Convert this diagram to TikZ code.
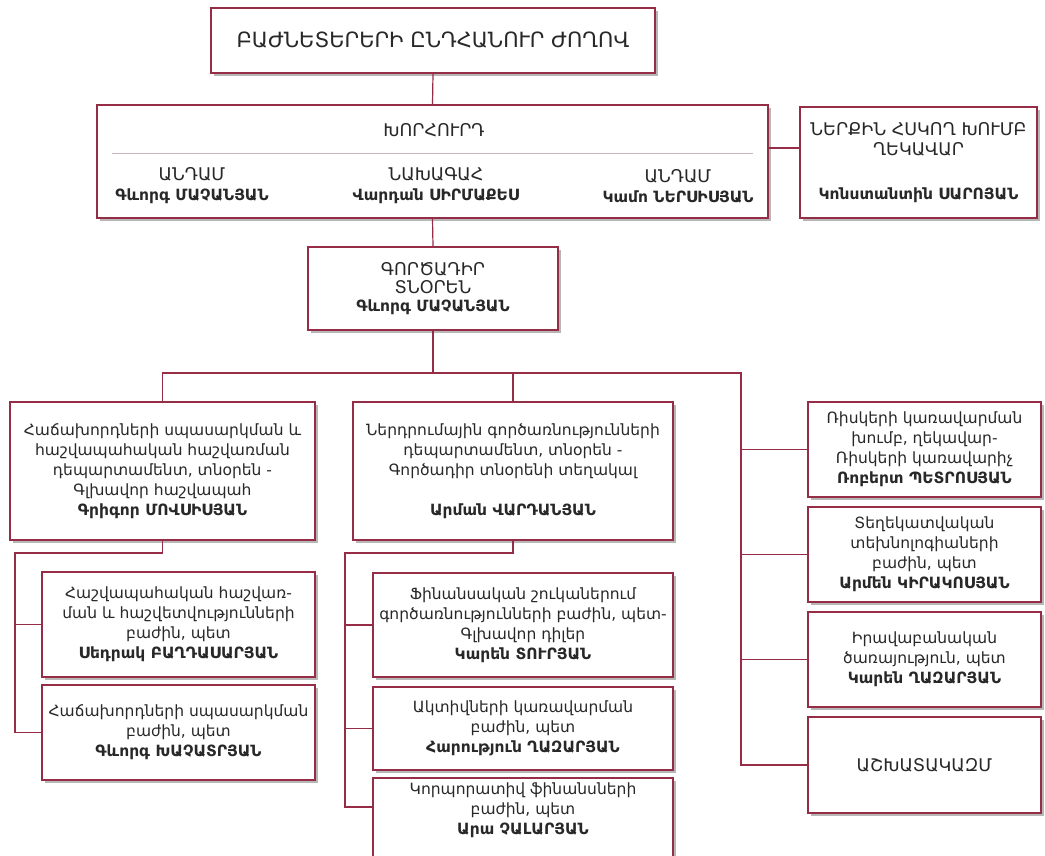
\documentclass[tikz,border=0pt]{standalone}
\usepackage{fontspec}
\setmainfont{DejaVu Sans}
\usetikzlibrary{shadows}
\definecolor{frame}{RGB}{150,45,70}
\definecolor{txt}{RGB}{40,40,40}
\definecolor{sepc}{RGB}{200,180,185}
\newcommand\bodyfont{\fontsize{15.5}{20}\selectfont}
\newcommand\capfont{\fontsize{17.5}{20}\selectfont}
\newcommand\titlefont{\fontsize{21}{24}\selectfont}
\newcommand\nm[1]{{\fontsize{15.5}{20}\selectfont\bfseries #1}}
\tikzset{
  box/.style={draw=frame, line width=1.4pt, fill=white, inner sep=0pt, align=center,
    text=txt, font=\bodyfont,
    drop shadow={shadow xshift=3pt, shadow yshift=-3pt, fill=black!35, opacity=0.8}},
  link/.style={draw=frame, line width=1.2pt},
  lbl/.style={inner sep=0pt, align=center, text=txt, font=\bodyfont}
}
\begin{document}
\begin{tikzpicture}[x=1pt,y=-1pt]
\useasboundingbox[fill=white] (0,0) rectangle (1045,856);

% top levels
\node[box, font=\titlefont, minimum width=444pt, minimum height=65pt] (gm) at (433,40.5)
  {ԲԱԺՆԵՏԵՐԵՐԻ ԸՆԴՀԱՆՈՒՐ ԺՈՂՈՎ};
\node[box, minimum width=671pt, minimum height=113pt] (council) at (432.5,161.5) {};
\node[lbl, font=\capfont] (ctitle) at (434,130) {ԽՈՐՀՈՒՐԴ};
\draw[sepc, line width=0.8pt] (112,153) -- (753,153);
\node[lbl, font=\capfont] (m1) at (192,186) {ԱՆԴԱՄ\\\nm{Գևորգ ՄԱՉԱՆՅԱՆ}};
\node[lbl, font=\capfont] (m2) at (436,186) {ՆԱԽԱԳԱՀ\\\nm{Վարդան ՍԻՐՄԱՔԵՍ}};
\node[lbl, font=\capfont] (m3) at (678,186) {ԱՆԴԱՄ\\\nm{Կամո ՆԵՐՍԻՍՅԱՆ}};

\node[box, font=\capfont, minimum width=237pt, minimum height=111pt] (audit) at (918.5,162.5)
  {ՆԵՐՔԻՆ ՀՍԿՈՂ ԽՈՒՄԲ\\ՂԵԿԱՎԱՐ\\[24pt]\nm{Կոնստանտին ՍԱՐՈՅԱՆ}};

\node[box, font=\fontsize{17.5}{18}\selectfont, minimum width=250pt, minimum height=83pt] (dir) at (433,288.5)
  {ԳՈՐԾԱԴԻՐ\\ՏՆՕՐԵՆ\\\nm{Գևորգ ՄԱՉԱՆՅԱՆ}};

% departments
\node[box, minimum width=305pt, minimum height=138pt] (ld) at (162.5,471)
  {Հաճախորդների սպասարկման և\\հաշվապահական հաշվառման\\դեպարտամենտ, տնօրեն -\\Գլխավոր հաշվապահ\\\nm{Գրիգոր ՄՈՎՍԻՍՅԱՆ}};
\node[box, minimum width=320pt, minimum height=138pt] (cd) at (513,471)
  {Ներդրումային գործառնությունների\\դեպարտամենտ, տնօրեն -\\Գործադիր տնօրենի տեղակալ\\[20pt]\nm{Արման ՎԱՐԴԱՆՅԱՆ}};

\node[box, minimum width=233pt, minimum height=95pt] (risk) at (924.5,449.5)
  {Ռիսկերի կառավարման\\խումբ, ղեկավար-\\Ռիսկերի կառավարիչ\\\nm{Ռոբերտ ՊԵՏՐՈՍՅԱՆ}};
\node[box, minimum width=233pt, minimum height=95pt] (it) at (924.5,554.5)
  {Տեղեկատվական\\տեխնոլոգիաների\\բաժին, պետ\\\nm{Արմեն ԿԻՐԱԿՈՍՅԱՆ}};
\node[box, minimum width=233pt, minimum height=95pt] (legal) at (924.5,659.5)
  {Իրավաբանական\\ծառայություն, պետ\\\nm{Կարեն ՂԱԶԱՐՅԱՆ}};
\node[box, font=\capfont, minimum width=233pt, minimum height=96pt] (staff) at (924.5,765)
  {ԱՇԽԱՏԱԿԱԶՄ};

% left sub-departments
\node[box, minimum width=273pt, minimum height=105pt] (ls1) at (178.5,624.5)
  {Հաշվապահական հաշվառ-\\ման և հաշվետվությունների\\բաժին, պետ\\\nm{Սեդրակ ԲԱՂԴԱՍԱՐՅԱՆ}};
\node[box, minimum width=273pt, minimum height=95pt] (ls2) at (178.5,732.5)
  {Հաճախորդների սպասարկման\\բաժին, պետ\\\nm{Գևորգ ԽԱՉԱՏՐՅԱՆ}};

% centre sub-departments
\node[box, minimum width=300pt, minimum height=104pt] (cs1) at (523,625)
  {Ֆինանսական շուկաներում\\գործառնությունների բաժին, պետ-\\Գլխավոր դիլեր\\\nm{Կարեն ՏՈՒՐՅԱՆ}};
\node[box, minimum width=300pt, minimum height=83pt] (cs2) at (523,728.5)
  {Ակտիվների կառավարման\\բաժին, պետ\\\nm{Հարություն ՂԱԶԱՐՅԱՆ}};
\node[box, minimum width=300pt, minimum height=88pt] (cs3) at (523,822) {};
\node[lbl] (cs3t) at (523,810)
  {Կորպորատիվ ֆինանսների\\բաժին, պետ\\\nm{Արա ՉԱԼԱՐՅԱՆ}};

% connectors
\draw[link] (gm.south) -- (council.north);
\draw[link] (council.south) -- (dir.north);
\draw[link] ([yshift=13.5pt]council.east) -- ([yshift=14.5pt]audit.west);

\coordinate (busR) at (741,373);
\draw[link] (dir.south) -- (dir.south |- busR);
\draw[link] (ld.north) |- (busR) -- (busR |- staff.west) -- (staff.west);
\draw[link] (cd.north) -- (cd.north |- busR);
\foreach \n in {risk,it,legal}
  \draw[link] (busR |- \n.west) -- (\n.west);

\coordinate (lsb) at (15,553);
\draw[link] (ld.south) |- (lsb) -- (lsb |- ls2.west) -- (ls2.west);
\draw[link] (lsb |- ls1.west) -- (ls1.west);

\coordinate (csb) at (345,553);
\coordinate (cs3w) at ([yshift=15pt]cs3.west);
\draw[link] (cd.south) |- (csb) -- (csb |- cs3w) -- (cs3w);
\draw[link] (csb |- cs1.west) -- (cs1.west);
\draw[link] (csb |- cs2.west) -- (cs2.west);
\end{tikzpicture}
\end{document}
